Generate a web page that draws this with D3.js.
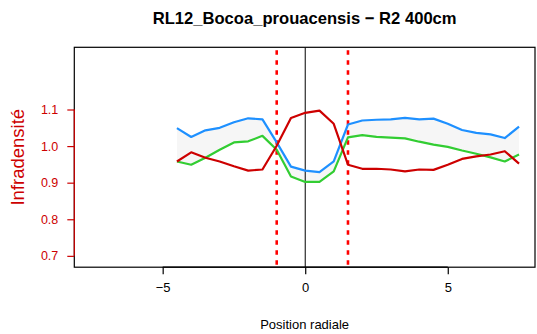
<!DOCTYPE html>
<html><head><meta charset="utf-8">
<script src="https://cdn.jsdelivr.net/npm/d3@7"></script>
<style>body{margin:0;background:#fff}svg{display:block;font-family:"Liberation Sans",Arial,Helvetica,sans-serif}</style>
</head><body>
<script>
const positions = [-4.5,-4,-3.5,-3,-2.5,-2,-1.5,-1,-0.5,0,0.5,1,1.5,2,2.5,3,3.5,4,4.5,5,5.5,6,6.5,7,7.5];
const blueVals  = [1.049,1.025,1.043,1.050,1.065,1.076,1.073,1.010,0.944,0.933,0.929,0.958,1.059,1.070,1.072,1.073,1.077,1.073,1.075,1.061,1.044,1.036,1.032,1.022,1.053];
const greenVals = [0.958,0.949,0.968,0.990,1.010,1.013,1.028,0.990,0.917,0.902,0.902,0.931,1.024,1.030,1.025,1.023,1.021,1.012,1.004,0.998,0.988,0.979,0.969,0.958,0.977];
const redVals   = [0.958,0.983,0.968,0.958,0.945,0.933,0.936,1.001,1.077,1.091,1.097,1.061,0.949,0.938,0.938,0.936,0.931,0.936,0.935,0.949,0.965,0.972,0.977,0.986,0.952];
const xTicks = [-5,0,5];
const yTicks = [0.7,0.8,0.9,1.0,1.1];
const boundaries = [-1,1.5];
const title = "RL12_Bocoa_prouacensis \u2212 R2 400cm";

const W=537,H=334;
const m={l:74.3,r:535,t:47.3,b:267.2};
const svg=d3.select("body").append("svg").attr("width",W).attr("height",H);
const x=d3.scaleLinear().domain([-8.1,8.06]).range([m.l,m.r]);
const y=d3.scaleLinear().domain([0.669,1.27]).range([m.b,m.t]);

svg.append("clipPath").attr("id","c").append("rect").attr("x",m.l).attr("y",m.t).attr("width",m.r-m.l).attr("height",m.b-m.t);
const g=svg.append("g").attr("clip-path","url(#c)");

const area=d3.area().x((d,i)=>x(positions[i])).y0((d,i)=>y(greenVals[i])).y1((d,i)=>y(blueVals[i]));
g.append("path").datum(positions).attr("d",area).attr("fill","#f6f6f6").attr("stroke","none");

g.append("line").attr("x1",x(0)).attr("x2",x(0)).attr("y1",m.t).attr("y2",m.b).attr("stroke","#000").attr("stroke-width",1);
boundaries.forEach(b=>{
  g.append("line").attr("x1",x(b)).attr("x2",x(b)).attr("y1",m.t+3).attr("y2",m.b)
   .attr("stroke","#ff0000").attr("stroke-width",2.6).attr("stroke-dasharray","4.5,5.5");
});

const line=vals=>d3.line().x((d,i)=>x(positions[i])).y((d,i)=>y(vals[i]))(positions);
[[blueVals,"#1e90ff"],[greenVals,"#32cd32"],[redVals,"#cd0000"]].forEach(([v,c])=>{
  g.append("path").attr("d",line(v)).attr("fill","none").attr("stroke",c).attr("stroke-width",2.2).attr("stroke-linejoin","round");
});

svg.append("rect").attr("x",m.l).attr("y",m.t).attr("width",m.r-m.l).attr("height",m.b-m.t).attr("fill","none").attr("stroke","#000").attr("stroke-width",1.2);

const xa=svg.append("g").attr("transform",`translate(0,${m.b})`)
  .call(d3.axisBottom(x).tickValues(xTicks).tickSize(7).tickPadding(9).tickFormat(d=>d<0?"\u2212"+Math.abs(d):d));
xa.select(".domain").attr("d",`M${x(-5)},0H${x(5)}`).attr("stroke-width",1.2);
xa.selectAll("text").attr("font-size",13).attr("fill","#000").attr("font-family","Liberation Sans,Arial,sans-serif");
xa.selectAll("line").attr("stroke-width",1.2);

const ya=svg.append("g").attr("transform",`translate(${m.l},0)`)
  .call(d3.axisLeft(y).tickValues(yTicks).tickSize(7).tickPadding(9).tickFormat(d3.format(".1f")));
ya.select(".domain").attr("d",`M0,${y(0.7)}V${y(1.1)}`).attr("stroke","#cd0000").attr("stroke-width",1.2);
ya.selectAll("line").attr("stroke","#cd0000").attr("stroke-width",1.2);
ya.selectAll("text").attr("font-size",12.5).attr("fill","#cd0000").attr("font-family","Liberation Sans,Arial,sans-serif");

svg.append("text").attr("x",(m.l+m.r)/2).attr("y",23.5).attr("text-anchor","middle")
  .attr("font-weight","bold").attr("font-size",16.6).text(title);
svg.append("text").attr("x",(m.l+m.r)/2).attr("y",329).attr("text-anchor","middle")
  .attr("font-size",13).text("Position radiale");
svg.append("text").attr("transform",`translate(24,${(m.t+m.b)/2}) rotate(-90)`).attr("text-anchor","middle")
  .attr("font-size",18.5).attr("fill","#cd0000").text("Infradensité");
</script>
</body></html>
